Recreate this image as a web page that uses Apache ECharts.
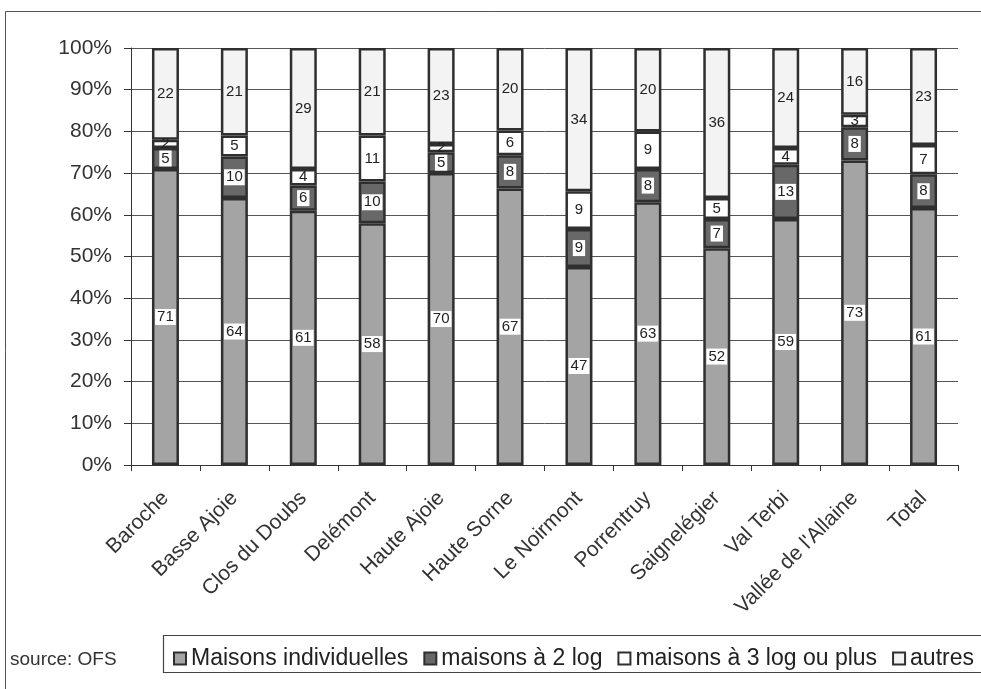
<!DOCTYPE html>
<html>
<head>
<meta charset="utf-8">
<script src="https://cdn.jsdelivr.net/npm/echarts@6/dist/echarts.min.js"></script>
<style>
  html, body { margin: 0; padding: 0; background: #fff; }
  #chart { width: 981px; height: 689px; }
</style>
</head>
<body>
<div id="chart"></div>
<script>
// Districts of the canton (category axis)
const categories = ['Baroche', 'Basse Ajoie', 'Clos du Doubs', 'Delémont', 'Haute Ajoie',
  'Haute Sorne', 'Le Noirmont', 'Porrentruy', 'Saignelégier', 'Val Terbi',
  "Vallée de l'Allaine", 'Total'];

// Share of buildings by type, in %, per district
const maisonsIndividuelles = [71, 64, 61, 58, 70, 67, 47, 63, 52, 59, 73, 61];
const maisons2Log          = [5, 10, 6, 10, 5, 8, 9, 8, 7, 13, 8, 8];
const maisons3Log          = [2, 5, 4, 11, 2, 6, 9, 9, 5, 4, 3, 7];
const autres               = [22, 21, 29, 21, 23, 20, 34, 20, 36, 24, 16, 23];

const seriesNames = ['Maisons individuelles', 'maisons à 2 log', 'maisons à 3 log ou plus', 'autres'];
const yTicks = [0, 10, 20, 30, 40, 50, 60, 70, 80, 90, 100];

const raw = [maisonsIndividuelles, maisons2Log, maisons3Log, autres];
const totals = categories.map((_, i) => raw.reduce((s, arr) => s + arr[i], 0));

const fills = ['#a4a4a4', '#686868', '#ffffff', '#f3f3f3'];
const FONT = '"Liberation Sans", Arial, sans-serif';

const series = raw.map((arr, k) => ({
  name: seriesNames[k],
  type: 'bar',
  stack: 'total',
  barWidth: 27,
  itemStyle: { color: fills[k], borderColor: '#2f2f2f', borderWidth: 2.5 },
  // 100 % stacking: each segment is its share of the district total
  data: arr.map((v, i) => ({ value: v / totals[i] * 100, raw: v })),
  label: {
    show: true,
    position: 'inside',
    formatter: p => String(p.data.raw),
    fontFamily: FONT,
    fontSize: 15,
    color: '#222',
    backgroundColor: k < 2 ? '#ffffff' : 'transparent',
    padding: [1, 2, 0, 2]
  }
}));

const chart = echarts.init(document.getElementById('chart'), null, { renderer: 'canvas' });
chart.setOption({
  animation: false,
  backgroundColor: '#ffffff',
  textStyle: { fontFamily: FONT },
  grid: { left: 131, right: 23, top: 48, bottom: 224, containLabel: false },
  xAxis: {
    type: 'category',
    data: categories,
    axisLine: { lineStyle: { color: '#333', width: 1 } },
    axisTick: { show: true, alignWithLabel: false, length: 6, lineStyle: { color: '#333' } },
    axisLabel: { rotate: 45, fontSize: 21, color: '#333', fontFamily: FONT, margin: 30, interval: 0 }
  },
  yAxis: {
    type: 'value',
    min: 0, max: 100, interval: 10,
    axisLine: { show: true, lineStyle: { color: '#333', width: 1 } },
    axisTick: { show: true, inside: false, length: 7, lineStyle: { color: '#333' } },
    axisLabel: {
      fontSize: 21, color: '#333', fontFamily: FONT, margin: 19,
      formatter: v => (yTicks.includes(v) ? v + '%' : '')
    },
    splitLine: { show: true, lineStyle: { color: '#555', width: 1 } }
  },
  legend: {
    left: 168, top: 642,
    itemWidth: 12, itemHeight: 12, itemGap: 15,
    icon: 'rect',
    textStyle: { fontSize: 23, color: '#222', fontFamily: FONT },
    data: seriesNames
  },
  graphic: [
    { type: 'rect', shape: { x: 5.5, y: 11.5, width: 1000, height: 700 },
      style: { fill: 'none', stroke: '#555', lineWidth: 1 }, silent: true, z: -1 },
    { type: 'rect', shape: { x: 163.5, y: 635.5, width: 830, height: 37 },
      style: { fill: 'none', stroke: '#444', lineWidth: 1.2 }, silent: true },
    { type: 'text', left: 10, top: 650,
      style: { text: 'source: OFS', fontSize: 19, fill: '#333', fontFamily: FONT } }
  ],
  series: series
});
</script>
</body>
</html>
